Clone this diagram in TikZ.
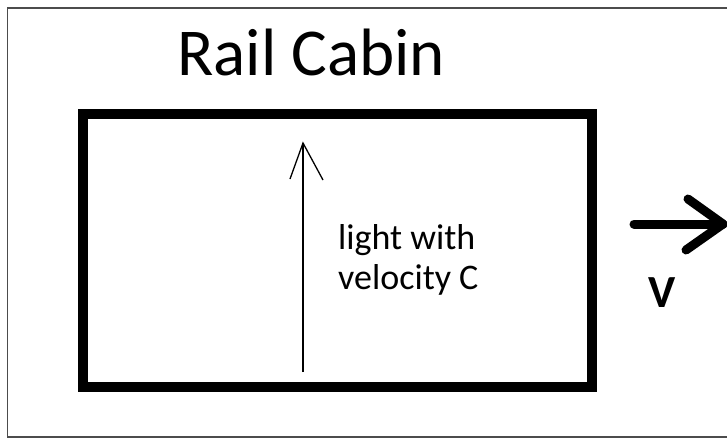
\documentclass[tikz,border=0pt]{standalone}
\usepackage{fontspec}
\setmainfont{Carlito}
\begin{document}
\begin{tikzpicture}[x=1pt,y=-1pt,
  frame/.style={draw=black!70,line width=1.4pt},
  cabin/.style={draw=black,line width=10pt},
  ray/.style={draw=black,line width=1.3pt},
  fat/.style={draw=black,line width=9pt,line cap=round,line join=round},
  lbl/.style={inner sep=0pt,anchor=base west}]
\useasboundingbox (0,0) rectangle (727,439);
\fill[white] (0,0) rectangle (727,439);
\draw[frame] (730,8) -- (7.5,8) -- (7.5,437) -- (730,437);
\draw[cabin] (83,114) rectangle (592,387);
\node[lbl,font=\fontsize{67}{70}\selectfont] (title) at (177,75) {Rail Cabin};
\coordinate (rb) at (303,372);
\coordinate (rt) at (303,143);
\draw[ray] (rb) -- (rt);
\draw[ray] (290,179) -- (rt) -- (323,180);
\node[lbl,font=\fontsize{36}{40}\selectfont] (light) at (338,249) {light with};
\node[lbl,font=\fontsize{36}{40}\selectfont] (vel) at (338,289) {velocity C};
\coordinate (vs) at (634,224);
\coordinate (ve) at (723,224);
\draw[fat] (vs) -- (ve);
\draw[fat] (688,199) -- (ve) -- (686,250);
\node[lbl,font=\bfseries\fontsize{46}{48}\selectfont] (v) at (648,307) {V};
\end{tikzpicture}
\end{document}
